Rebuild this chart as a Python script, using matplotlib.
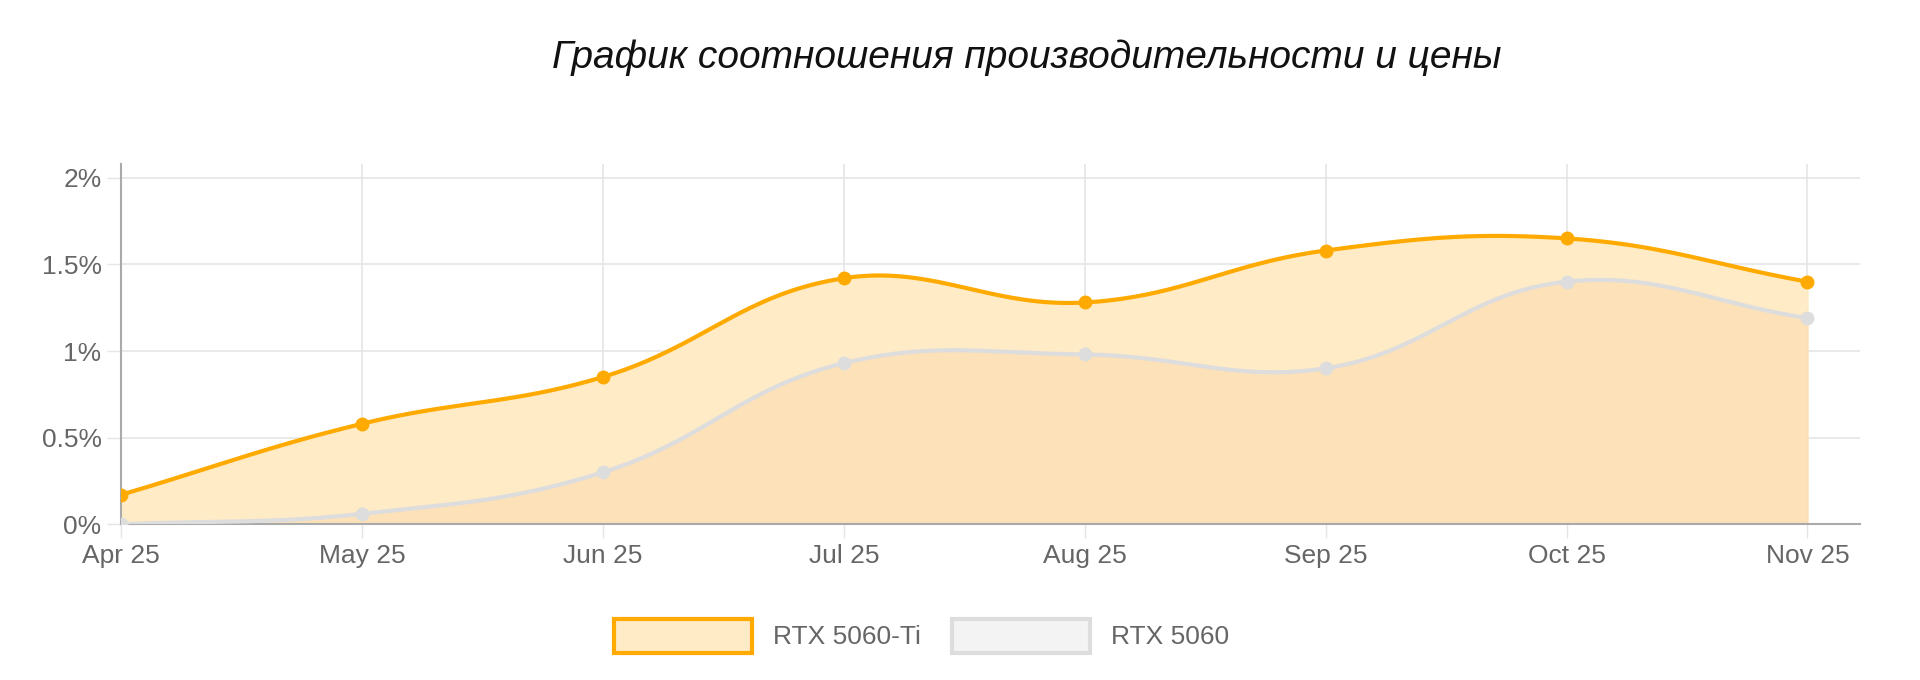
import numpy as np
import matplotlib.pyplot as plt
from matplotlib.patches import Patch

plt.rcParams['font.family'] = ['Liberation Sans', 'DejaVu Sans']

months = ['Apr 25', 'May 25', 'Jun 25', 'Jul 25', 'Aug 25', 'Sep 25', 'Oct 25', 'Nov 25']
ti_vals = [0.17, 0.58, 0.85, 1.42, 1.28, 1.58, 1.65, 1.40]
base_vals = [0.0, 0.06, 0.30, 0.93, 0.98, 0.90, 1.40, 1.19]
yticks = [0, 0.5, 1, 1.5, 2]
ylabels = ['0%', '0.5%', '1%', '1.5%', '2%']


def smooth(y, t=0.4, n=40):
    # chart.js-like bezier with tension t
    y = np.asarray(y, float)
    x = np.arange(len(y), dtype=float)
    k = len(y)
    cps = []
    for i in range(k):
        p = np.array([x[max(i - 1, 0)], y[max(i - 1, 0)]])
        c = np.array([x[i], y[i]])
        q = np.array([x[min(i + 1, k - 1)], y[min(i + 1, k - 1)]])
        d01 = np.hypot(*(c - p)); d12 = np.hypot(*(q - c))
        s = d01 + d12 if d01 + d12 > 0 else 1
        fa, fb = t * d01 / s, t * d12 / s
        cps.append((c - fa * (q - p), c + fb * (q - p)))
    xs, ys = [], []
    u = np.linspace(0, 1, n)[:, None]
    for i in range(k - 1):
        p0 = np.array([x[i], y[i]]); p3 = np.array([x[i + 1], y[i + 1]])
        p1 = cps[i][1]; p2 = cps[i + 1][0]
        b = (1 - u) ** 3 * p0 + 3 * (1 - u) ** 2 * u * p1 + 3 * (1 - u) * u ** 2 * p2 + u ** 3 * p3
        xs.append(b[:, 0]); ys.append(b[:, 1])
    return np.concatenate(xs), np.concatenate(ys)


fig = plt.figure(figsize=(19.2, 6.8), dpi=100)
ax = fig.add_axes([0.063, 0.229, 0.906, 0.53])
x = np.arange(len(months))

orange = '#FFAA00'
grey = '#DDDDDD'

xs, ys = smooth(ti_vals)
ax.fill_between(xs, 0, ys, color='#FFEBC6', zorder=1)
ax.plot(xs, ys, color=orange, lw=3, zorder=4)
ax.plot(x, ti_vals, 'o', color=orange, ms=9, zorder=5)

xs2, ys2 = smooth(base_vals)
ax.fill_between(xs2, 0, ys2, color='#FBD9B0', alpha=0.55, zorder=2)
ax.plot(xs2, ys2, color=grey, lw=3, zorder=3)
ax.plot(x, base_vals, 'o', color=grey, ms=9, zorder=3)

ax.set_xlim(0, 7.22)
ax.set_ylim(0, 2.08)
ax.set_xticks(x)
ax.set_xticklabels(months)
ax.set_yticks(yticks)
ax.set_yticklabels(ylabels)
ax.tick_params(axis='both', labelsize=19, colors='#666666', length=10, width=1,
               pad=4)
ax.tick_params(axis='both', color='#E5E5E5')
ax.grid(True, color='#E5E5E5', lw=1.2)
ax.set_axisbelow(True)
for s in ['top', 'right']:
    ax.spines[s].set_visible(False)
ax.spines['left'].set_color('#AAAAAA')
ax.spines['bottom'].set_color('#AAAAAA')
ax.spines['left'].set_linewidth(1.5)
ax.spines['bottom'].set_linewidth(1.5)

fig.text(0.535, 0.915, 'График соотношения производительности и цены', ha='center',
         va='center', fontsize=28, style='italic', color='#111111')

handles = [Patch(facecolor='#FFEBC6', edgecolor=orange, lw=3, label='RTX 5060-Ti'),
           Patch(facecolor='#F3F3F3', edgecolor=grey, lw=3, label='RTX 5060')]
fig.legend(handles=handles, loc='center', bbox_to_anchor=(0.48, 0.065), ncol=2,
           frameon=False, fontsize=19, handlelength=5.2, handleheight=1.6,
           columnspacing=1.2, labelcolor='#666666')

fig.savefig('out.png', dpi=100)
